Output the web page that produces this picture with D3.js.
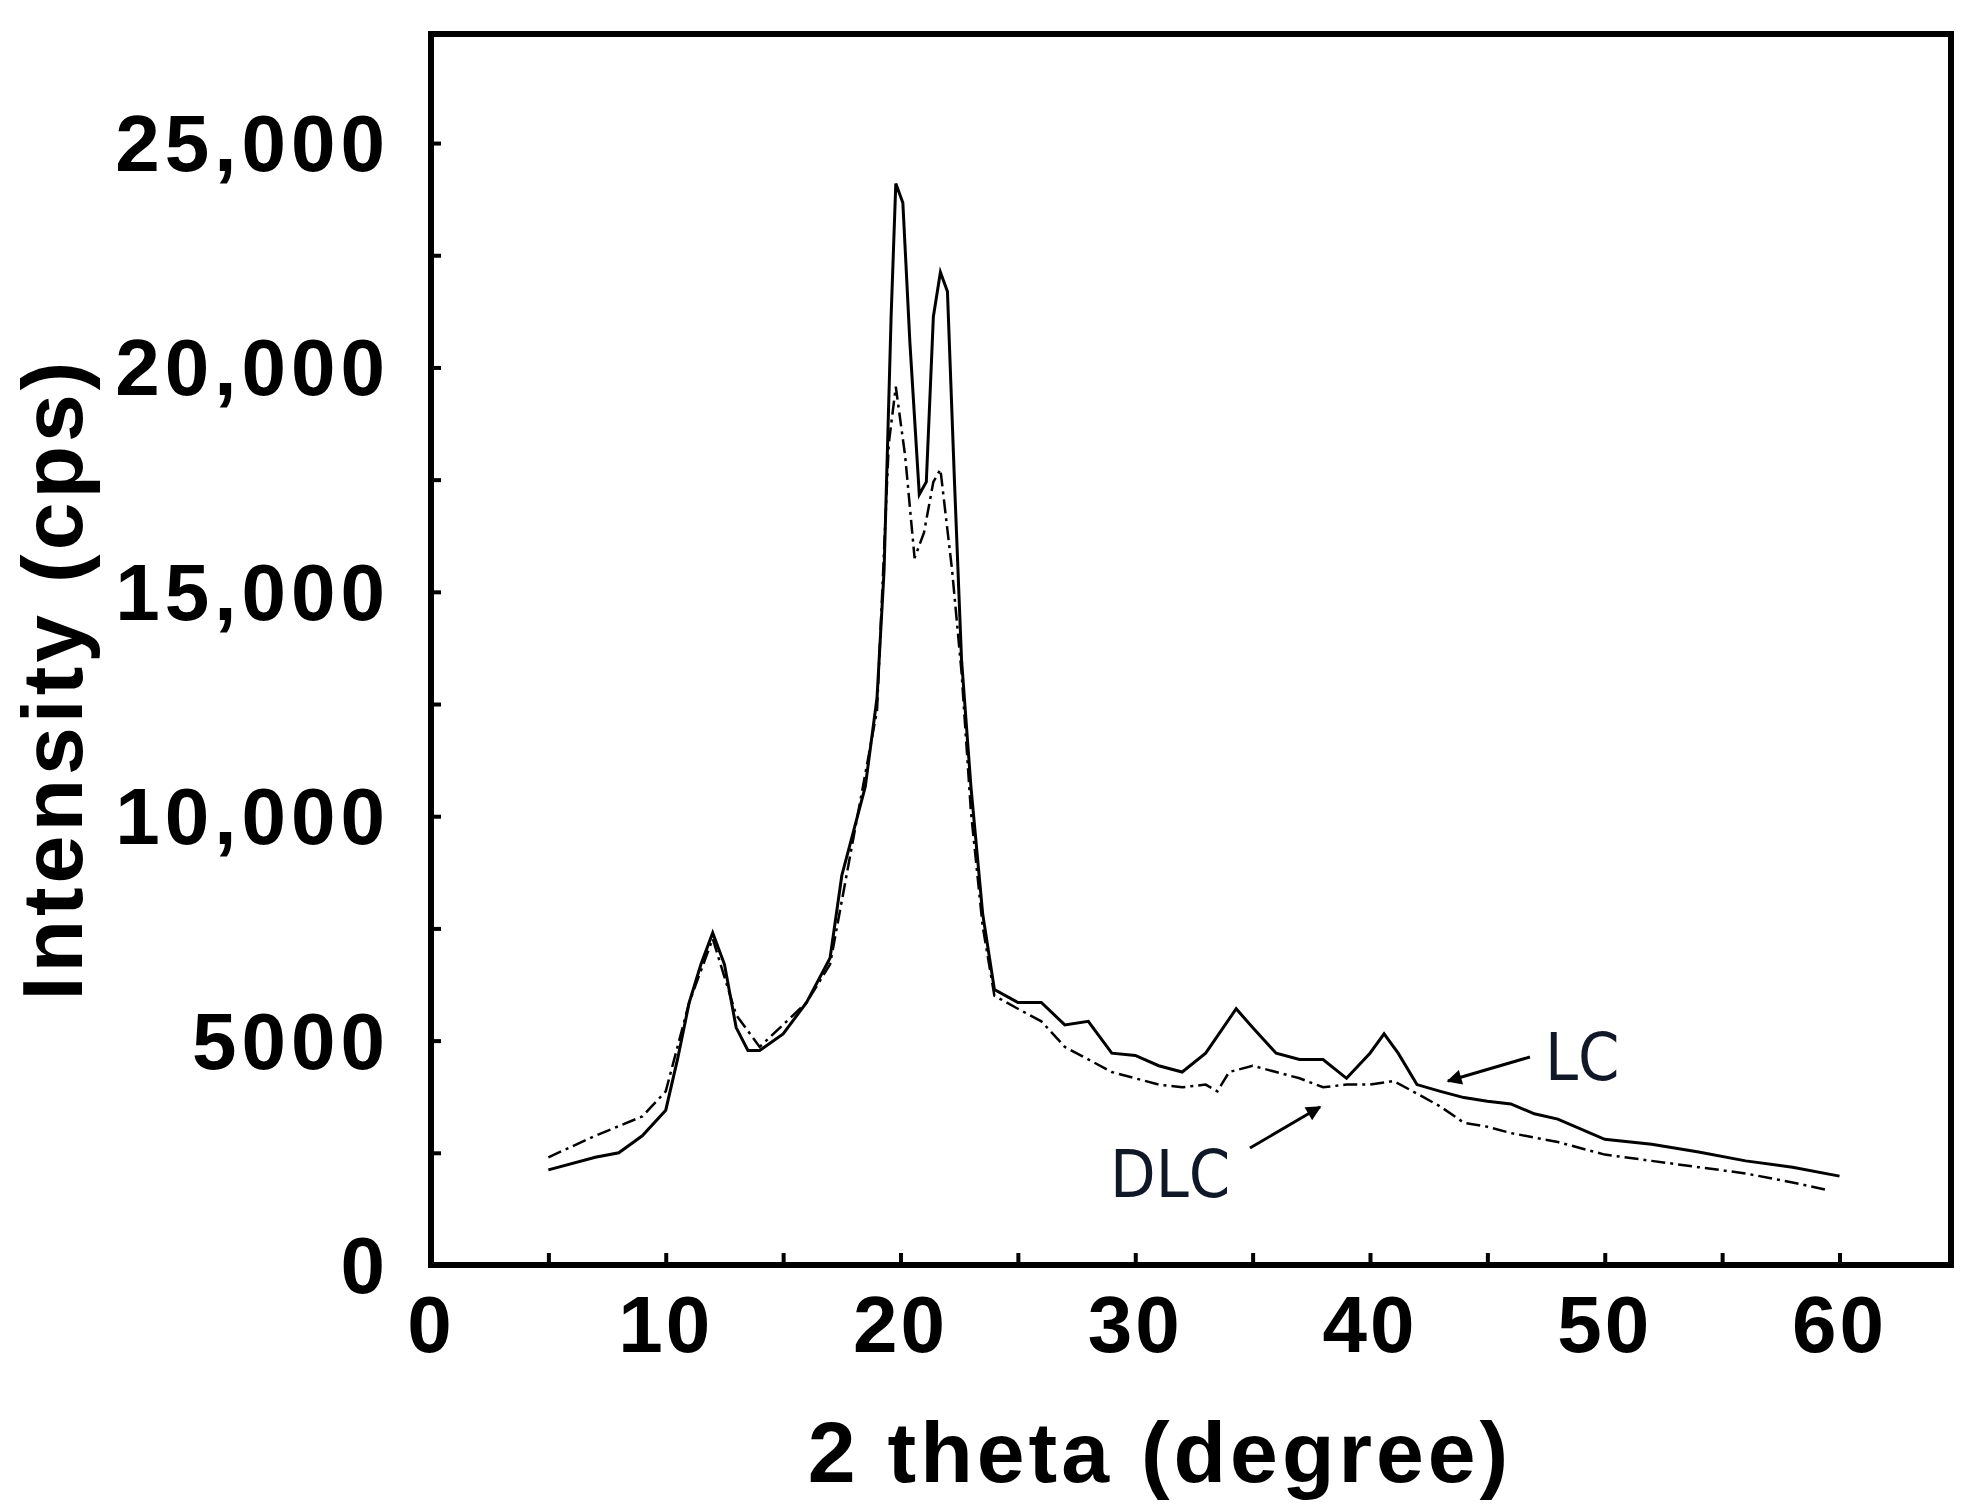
<!DOCTYPE html>
<html><head><meta charset="utf-8">
<script src="https://cdn.jsdelivr.net/npm/d3@7"></script>
<style>body{margin:0;background:#fff}</style></head>
<body><svg id="c" width="1980" height="1508"></svg>
<script>
const lcX = [5,7,8,9,10,10.5,11,11.5,12,12.5,13,13.5,14,15,16,17,17.5,18,18.5,19,19.3,19.6,19.8,20.1,20.4,20.8,21.1,21.4,21.7,22.0,22.3,22.6,23,23.5,24,25,26,27,28,29,30,31,32,33,34.3,35,36,37,38,39,40,40.6,41.2,42,43,44,45,46,47,48,50,52,54,56,58,60];
const lcY = [2120,2400,2500,2880,3450,4580,5850,6700,7400,6700,5290,4780,4780,5150,5850,6840,8680,9670,10660,12640,15470,21130,24100,23670,20560,17170,17450,21130,22120,21690,17450,13490,10660,7830,6140,5850,5850,5350,5430,4720,4670,4440,4300,4720,5710,5290,4720,4580,4580,4160,4720,5150,4720,4020,3870,3730,3650,3590,3370,3250,2800,2690,2520,2320,2180,1980];
const dlcX = [5,7,9,10,11,12,13,14,16,17,18,19,19.5,19.8,20.2,20.6,21.0,21.4,21.7,22.2,22.6,23,23.5,24,25,26,27,28,29,30,31,32,33,33.5,34,35,36,37,38,39,40,41,42,43,44,45,46,48,50,52,54,56,58,59.5];
const dlcY = [2400,2880,3310,3870,5850,7270,5570,4860,5850,6700,9530,12360,18300,19570,18020,15750,16320,17450,17730,15470,13210,10100,7550,6000,5710,5430,4860,4580,4300,4160,4020,3960,4020,3870,4300,4440,4300,4160,3960,4020,4020,4100,3820,3530,3170,3080,2940,2740,2460,2320,2180,2040,1840,1670];
const xTicks = [0,10,20,30,40,50,60];
const yTicks = [0,5000,10000,15000,20000,25000];
const yLabels = ["0","5000","10,000","15,000","20,000","25,000"];

const svg = d3.select("#c");
const L=431,R=1951,T=34,B=1265;
const x = d3.scaleLinear().domain([0,64.75]).range([L,R]);
const y = d3.scaleLinear().domain([0,27430]).range([B,T]);
const font = "Arial, 'Liberation Sans', sans-serif";

const xa = d3.axisBottom(x).tickValues(d3.range(5,61,5)).tickSize(-12).tickFormat("");
svg.append("g").attr("transform",`translate(0,${B})`).call(xa)
  .call(g=>{g.select(".domain").remove();g.selectAll("line").attr("stroke","#000").attr("stroke-width",4);});
const ya = d3.axisLeft(y).tickValues(d3.range(2500,27001,2500)).tickSize(-10).tickFormat("");
svg.append("g").attr("transform",`translate(${L},0)`).call(ya)
  .call(g=>{g.select(".domain").remove();g.selectAll("line").attr("stroke","#000").attr("stroke-width",4);});

const line = d3.line().x(d=>x(d[0])).y(d=>y(d[1]));
svg.append("path").datum(dlcX.map((v,i)=>[v,dlcY[i]])).attr("d",line)
  .attr("fill","none").attr("stroke","#000").attr("stroke-width",2.5).attr("stroke-dasharray","14,5,3,5");
svg.append("path").datum(lcX.map((v,i)=>[v,lcY[i]])).attr("d",line)
  .attr("fill","none").attr("stroke","#000").attr("stroke-width",3);

svg.append("rect").attr("x",L).attr("y",T).attr("width",R-L).attr("height",B-T)
  .attr("fill","none").attr("stroke","#000").attr("stroke-width",6);

svg.selectAll(".xl").data(xTicks).enter().append("text")
  .attr("x",d=>x(d)).attr("y",1352).attr("text-anchor","middle")
  .attr("font-family",font).attr("font-weight","bold").attr("font-size",80)
  .attr("transform-origin","center").attr("letter-spacing",3).text(d=>d);
svg.selectAll(".yl").data(yTicks).enter().append("text")
  .attr("x",390).attr("y",d=>y(d)+28).attr("text-anchor","end")
  .attr("font-family",font).attr("font-weight","bold").attr("font-size",80).attr("letter-spacing",5)
  .text((d,i)=>yLabels[i]);

svg.append("text").attr("x",1160).attr("y",1482).attr("text-anchor","middle")
  .attr("font-family",font).attr("font-weight","bold").attr("font-size",86).attr("letter-spacing",4).text("2 theta (degree)");
svg.append("text").attr("transform","translate(82,679) rotate(-90)").attr("text-anchor","middle")
  .attr("font-family",font).attr("font-weight","bold").attr("font-size",86).attr("letter-spacing",4).text("Intensity (cps)");

const defs = svg.append("defs");
defs.append("marker").attr("id","ah").attr("viewBox","0 0 10 10").attr("refX",9).attr("refY",5)
  .attr("markerWidth",6).attr("markerHeight",5).attr("orient","auto")
  .append("path").attr("d","M0,0L10,5L0,10z").attr("fill","#000");
const c = "#101828";
svg.append("line").attr("x1",1530).attr("y1",1057).attr("x2",1448).attr("y2",1081)
  .attr("stroke","#000").attr("stroke-width",3).attr("marker-end","url(#ah)");
svg.append("text").attr("x",1545).attr("y",1080).attr("font-family","'Liberation Sans Narrow','DejaVu Sans Condensed',sans-serif")
  .attr("font-size",66).attr("fill",c).text("LC");
svg.append("line").attr("x1",1250).attr("y1",1148).attr("x2",1320).attr("y2",1107)
  .attr("stroke","#000").attr("stroke-width",3).attr("marker-end","url(#ah)");
svg.append("text").attr("x",1110).attr("y",1197).attr("font-family","'Liberation Sans Narrow','DejaVu Sans Condensed',sans-serif")
  .attr("font-size",66).attr("fill",c).text("DLC");
</script></body></html>
